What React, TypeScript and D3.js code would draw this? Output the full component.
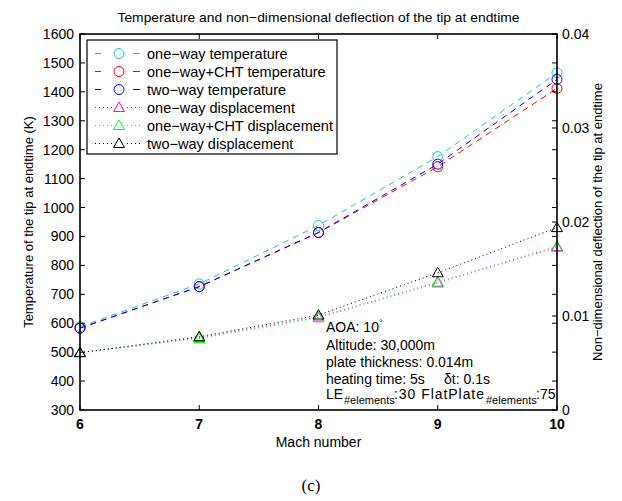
import React from "react";
import * as d3 from "d3";

const mach = [6, 7, 8, 9, 10];
const tempOneWay = [588, 736, 938, 1176, 1466];
const tempCHT = [583, 726, 913, 1141, 1412];
const tempTwoWay = [583, 727, 914, 1150, 1443];
const dispOneWay = [0.0061, 0.0077, 0.0099, 0.0136, 0.0174];
const dispCHT = [0.0061, 0.0076, 0.0098, 0.0135, 0.0173];
const dispTwoWay = [0.0061, 0.0078, 0.0101, 0.0146, 0.0194];
const xTicks = [6, 7, 8, 9, 10];
const leftTicks = d3.range(300, 1601, 100);
const rightTicks = [0, 0.01, 0.02, 0.03, 0.04];
const seriesNames = [
  "one−way temperature",
  "one−way+CHT temperature",
  "two−way temperature",
  "one−way displacement",
  "one−way+CHT displacement",
  "two−way displacement",
];

const FONT = "'Liberation Sans', Arial, Helvetica, sans-serif";

export default function App() {
  const W = 622, H = 501;
  const L = 80, R = 557, T = 34, B = 410;
  const x = d3.scaleLinear().domain([6, 10]).range([L, R]);
  const yL = d3.scaleLinear().domain([300, 1600]).range([B, T]);
  const yR = d3.scaleLinear().domain([0, 0.04]).range([B, T]);

  const series = [
    { name: seriesNames[0], vals: tempOneWay, y: yL, color: "#1fc6c6", dash: "6,5", marker: "o" },
    { name: seriesNames[1], vals: tempCHT, y: yL, color: "#ff0000", dash: "6,5", marker: "o" },
    { name: seriesNames[2], vals: tempTwoWay, y: yL, color: "#0000ff", dash: "6,5", marker: "o" },
    { name: seriesNames[3], vals: dispOneWay, y: yR, color: "#ff00ff", dash: "1,3", marker: "^" },
    { name: seriesNames[4], vals: dispCHT, y: yR, color: "#00ff00", dash: "1,3", marker: "^" },
    { name: seriesNames[5], vals: dispTwoWay, y: yR, color: "#000000", dash: "1,3", marker: "^" },
  ];

  const marker = (m: string, cx: number, cy: number, color: string, key: any) =>
    m === "o" ? (
      <circle key={key} cx={cx} cy={cy} r={5} fill="none" stroke={color} strokeWidth={1} />
    ) : (
      <path
        key={key}
        d={`M${cx},${cy - 5.5}L${cx + 5.5},${cy + 4}L${cx - 5.5},${cy + 4}Z`}
        fill="none"
        stroke={color}
        strokeWidth={1}
      />
    );

  const tk = 5;
  const legX = 87, legY = 40, legW = 250, legH = 114;
  const rowY = (i: number) => legY + 13.5 + i * 18;

  return (
    <svg width={W} height={H} style={{ display: "block", position: "absolute", left: 0, top: 0 }} fontFamily={FONT}>
      <rect x={0} y={0} width={W} height={H} fill="white" />
      {/* title */}
      <text x={(L + R) / 2} y={22} fontSize={13.5} textAnchor="middle" textLength={402} lengthAdjust="spacingAndGlyphs">
        Temperature and non−dimensional deflection of the tip at endtime
      </text>

      {/* series */}
      {series.map((s, i) => {
        const line = d3.line<number>().x((_, j) => x(mach[j])).y((v) => s.y(v));
        return (
          <g key={i}>
            <path d={line(s.vals) || ""} fill="none" stroke={s.color} strokeWidth={1} strokeDasharray={s.dash} />
            {s.vals.map((v, j) => marker(s.marker, x(mach[j]), s.y(v), s.color, j))}
          </g>
        );
      })}

      {/* axes frame */}
      <rect x={L} y={T} width={R - L} height={B - T} fill="none" stroke="black" strokeWidth={1.6} />

      {/* x ticks */}
      {xTicks.map((t) => (
        <g key={"x" + t}>
          <line x1={x(t)} x2={x(t)} y1={B} y2={B - tk} stroke="black" />
          <line x1={x(t)} x2={x(t)} y1={T} y2={T + tk} stroke="black" />
          <text x={x(t)} y={B + 19} fontSize={14} fontWeight="bold" textAnchor="middle">{t}</text>
        </g>
      ))}
      {/* left ticks mirrored on right */}
      {leftTicks.map((t) => (
        <g key={"l" + t}>
          <line x1={L} x2={L + tk} y1={yL(t)} y2={yL(t)} stroke="black" />
          <line x1={R} x2={R - tk} y1={yL(t)} y2={yL(t)} stroke="black" />
          <text x={L - 6} y={yL(t) + 5} fontSize={14} textAnchor="end">{t}</text>
        </g>
      ))}
      {/* right ticks */}
      {rightTicks.map((t) => (
        <g key={"r" + t}>
          <line x1={R} x2={R - tk} y1={yR(t)} y2={yR(t)} stroke="black" />
          <text x={R + 5} y={yR(t) + 5} fontSize={14} textAnchor="start">{t === 0 ? "0" : t.toFixed(2)}</text>
        </g>
      ))}

      {/* axis labels */}
      <text x={(L + R) / 2} y={447} fontSize={14} textAnchor="middle">Mach number</text>
      <text transform={`translate(33,${(T + B) / 2}) rotate(-90)`} fontSize={13} textAnchor="middle">
        Temperature of the tip at endtime (K)
      </text>
      <text transform={`translate(602,${(T + B) / 2}) rotate(-90)`} fontSize={13} textAnchor="middle">
        Non−dimensional deflection of the tip at endtime
      </text>

      {/* legend */}
      <rect x={legX} y={legY} width={legW} height={legH} fill="white" stroke="black" strokeWidth={1.2} />
      {series.map((s, i) => (
        <g key={"lg" + i}>
          {s.marker === "o" ? (
            <g stroke={s.color} strokeWidth={1}>
              <line x1={95} x2={101} y1={rowY(i)} y2={rowY(i)} />
              <line x1={133} x2={140} y1={rowY(i)} y2={rowY(i)} />
            </g>
          ) : (
            <line x1={95} x2={141} y1={rowY(i)} y2={rowY(i)} stroke={s.color} strokeWidth={1} strokeDasharray="1,3" />
          )}
          {s.marker === "^" ? (
            <rect x={113} y={rowY(i) - 6} width={12} height={12} fill="white" />
          ) : null}
          {marker(s.marker, 119, rowY(i), s.color, "m")}
          <text x={147} y={rowY(i) + 5} fontSize={14.5}>{s.name}</text>
        </g>
      ))}

      {/* annotation */}
      <g fontSize={14}>
        <text x={326} y={332}>AOA: 10<tspan fontSize={9} dy={-6}>°</tspan></text>
        <text x={326} y={350}>Altitude: 30,000m</text>
        <text x={326} y={367}>plate thickness: 0.014m</text>
        <text x={326} y={384}>heating time: 5s<tspan x={444}>δt: 0.1s</tspan></text>
        <text x={326} y={399}>LE</text>
        <text x={344} y={404} fontSize={11}>#elements</text>
        <text x={394} y={399} textLength={90} lengthAdjust="spacing">:30 FlatPlate</text>
        <text x={486} y={404} fontSize={11}>#elements</text>
        <text x={536} y={399}>:75</text>
      </g>

      {/* caption */}
      <text x={311} y={491} fontSize={17} fontFamily="'Liberation Serif', 'Times New Roman', serif" textAnchor="middle">(c)</text>
    </svg>
  );
}
